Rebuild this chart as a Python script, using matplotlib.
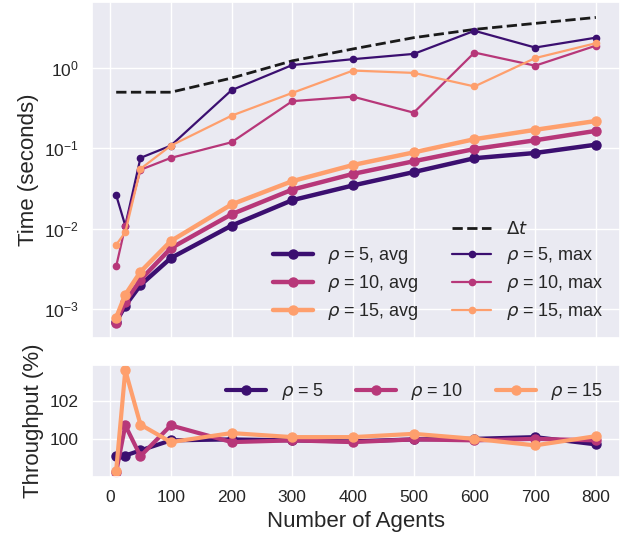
import matplotlib
matplotlib.use("Agg")
import matplotlib.pyplot as plt
from matplotlib.lines import Line2D
from matplotlib.ticker import MultipleLocator
import seaborn as sns

# ---- data -----------------------------------------------------------------
agents = [10, 25, 50, 100, 200, 300, 400, 500, 600, 700, 800]
rhos = [5, 10, 15]

delta_t = [0.5, 0.5, 0.5, 0.5, 0.75, 1.23, 1.73, 2.39, 3.03, 3.6, 4.27]

avg_rho5 = [0.00069, 0.0011, 0.00198, 0.0043, 0.0109, 0.0226, 0.0345, 0.0506, 0.0753, 0.0875, 0.111]
avg_rho10 = [0.00067, 0.00123, 0.0023, 0.0057, 0.0151, 0.0306, 0.048, 0.069, 0.098, 0.126, 0.165]
avg_rho15 = [0.00078, 0.0015, 0.0029, 0.0070, 0.020, 0.039, 0.062, 0.089, 0.130, 0.170, 0.219]

max_rho5 = [0.026, 0.0109, 0.076, 0.108, 0.53, 1.09, 1.29, 1.50, 2.91, 1.80, 2.39]
max_rho10 = [0.0034, 0.0107, 0.054, 0.076, 0.119, 0.387, 0.44, 0.278, 1.56, 1.07, 1.90]
max_rho15 = [0.0063, 0.009, 0.0555, 0.108, 0.255, 0.49, 0.93, 0.87, 0.59, 1.33, 2.04]

thr_rho5 = [99.16, 99.16, 99.43, 99.95, 100.0, 99.95, 99.9, 100.0, 100.03, 100.12, 99.74]
thr_rho10 = [98.3, 100.73, 99.13, 100.73, 99.86, 99.95, 99.86, 100.0, 99.95, 100.03, 99.95]
thr_rho15 = [98.38, 103.6, 100.77, 99.86, 100.33, 100.12, 100.12, 100.29, 100.03, 99.69, 100.17]

avg_series = [avg_rho5, avg_rho10, avg_rho15]
max_series = [max_rho5, max_rho10, max_rho15]
thr_series = [thr_rho5, thr_rho10, thr_rho15]

# ---- style ----------------------------------------------------------------
sns.set_theme(style="darkgrid")
plt.rcParams["font.family"] = ["Liberation Sans", "DejaVu Sans"]
plt.rcParams["xtick.labelsize"] = 12.5
plt.rcParams["ytick.labelsize"] = 12.5
plt.rcParams["axes.labelsize"] = 16
plt.rcParams["legend.fontsize"] = 13

colors = plt.cm.magma([0.2, 0.5, 0.8])

fig = plt.figure(figsize=(6.23, 5.41), dpi=100)
ax = fig.add_axes([0.148, 0.375, 0.847, 0.621])
ax2 = fig.add_axes([0.148, 0.118, 0.847, 0.207], sharex=ax)

# top panel: timings
dt_line, = ax.plot(agents, delta_t, "k--", lw=2, label=r"$\Delta t$")
avg_h, max_h = [], []
for rho, ys, c in zip(rhos, avg_series, colors):
    h, = ax.plot(agents, ys, "-o", color=c, lw=3.2, ms=6.5,
                 label=rf"$\rho$ = {rho}, avg")
    avg_h.append(h)
for rho, ys, c in zip(rhos, max_series, colors):
    h, = ax.plot(agents, ys, "-o", color=c, lw=1.6, ms=4.5,
                 label=rf"$\rho$ = {rho}, max")
    max_h.append(h)
ax.set_yscale("log")
ax.set_ylabel("Time (seconds)")
ax.tick_params(labelbottom=False)

blank = Line2D([], [], linestyle="none", label=" ")
handles = [blank] + avg_h + [dt_line] + max_h
ax.legend(handles=handles, labels=[h.get_label() for h in handles],
          ncol=2, loc="lower right", frameon=False, labelspacing=0.38,
          columnspacing=1.8, handlelength=2.2)

# bottom panel: throughput
for rho, ys, c in zip(rhos, thr_series, colors):
    ax2.plot(agents, ys, "-o", color=c, lw=3, ms=6.5, label=rf"$\rho$ = {rho}")
ax2.yaxis.set_major_locator(MultipleLocator(2))
ax2.xaxis.set_major_locator(MultipleLocator(100))
ax2.set_xlabel("Number of Agents")
ax2.set_ylabel("Throughput (%)")
ax2.legend(ncol=3, loc="upper right", frameon=False, columnspacing=1.8,
           handlelength=2.2)

fig.align_ylabels([ax, ax2])
fig.savefig("out.png", dpi=100)
